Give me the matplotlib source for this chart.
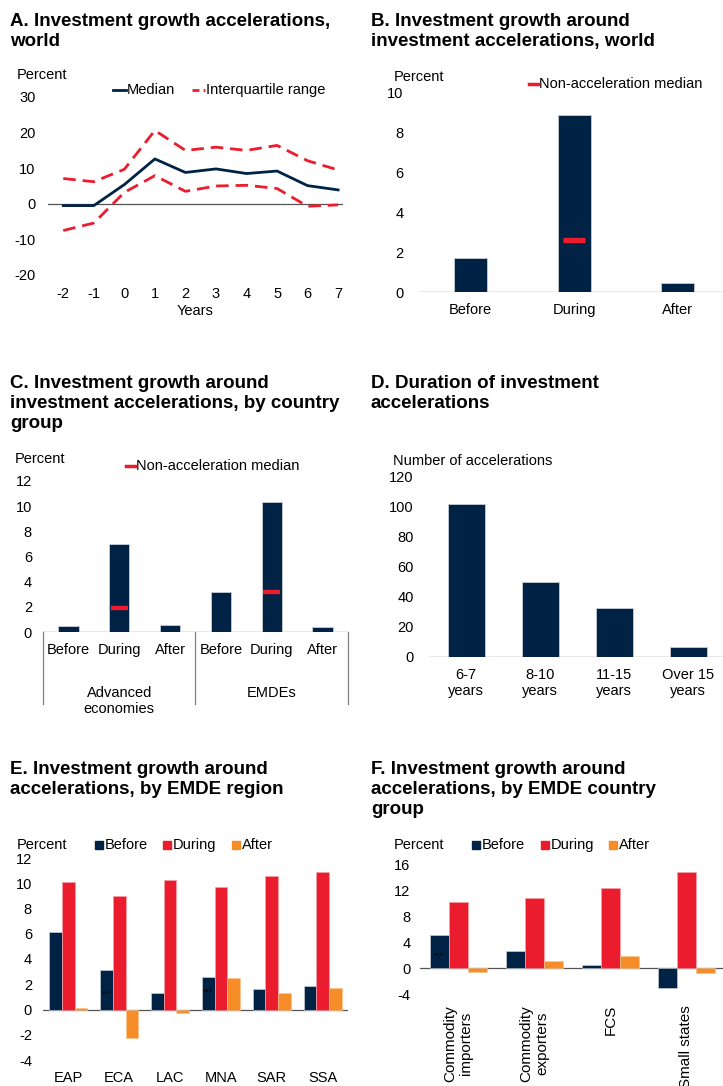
import numpy as np
import matplotlib
matplotlib.use("Agg")
import matplotlib.pyplot as plt
from matplotlib.lines import Line2D
from matplotlib.patches import Rectangle
import matplotlib.transforms as mtransforms

plt.rcParams['font.family'] = ['Liberation Sans', 'DejaVu Sans']
plt.rcParams['axes.unicode_minus'] = False

NAVY = '#002345'
RED = '#EB1C2D'
ORANGE = '#F78D28'
GRAY = '#555555'

# ---- data ----
years = [-2, -1, 0, 1, 2, 3, 4, 5, 6, 7]
median = [-0.5, -0.5, 5.4, 12.6, 8.8, 9.8, 8.5, 9.2, 5.1, 3.9]
upper_q = [7.1, 6.2, 9.7, 20.6, 15.0, 15.9, 15.0, 16.4, 12.1, 9.5]
lower_q = [-7.5, -5.4, 3.2, 7.9, 3.5, 5.0, 5.2, 4.3, -0.7, -0.3]

phases = ['Before', 'During', 'After']
world_growth = [1.71, 8.87, 0.47]
world_nonacc = 2.59

groups_c = ['Advanced\neconomies', 'EMDEs']
ae_growth = [0.45, 6.97, 0.53]
emde_growth = [3.2, 10.3, 0.4]
nonacc_c = [1.87, 3.2]

durations = ['6-7\nyears', '8-10\nyears', '11-15\nyears', 'Over 15\nyears']
n_accel = [102, 50, 33, 7]

regions = ['EAP', 'ECA', 'LAC', 'MNA', 'SAR', 'SSA']
reg_before = [6.14, 3.12, 1.30, 2.59, 1.59, 1.88]
reg_during = [10.13, 8.97, 10.26, 9.68, 10.58, 10.90]
reg_after = [0.08, -2.25, -0.29, 2.49, 1.32, 1.67]
reg_stars = {1: 1.24, 3: 1.4}

cgroups = ['Commodity\nimporters', 'Commodity\nexporters', 'FCS', 'Small states']
cg_before = [5.08, 2.6, 0.46, -3.08]
cg_during = [10.15, 10.8, 12.36, 14.77]
cg_after = [-0.6, 1.08, 1.8, -0.77]
cg_stars = {0: 1.8}

# ---- layout helpers (pixel coords, origin top-left) ----
W, H = 723, 1086
fig = plt.figure(figsize=(W / 100, H / 100), dpi=100)

def box(l, t, r, b):
    return [l / W, 1 - b / H, (r - l) / W, (b - t) / H]

def ftext(x, y, s, **kw):
    kw.setdefault('fontsize', 10.5)
    kw.setdefault('va', 'center')
    fig.text(x / W, 1 - y / H, s, **kw)

def fline(x1, x2, y, **kw):
    fig.add_artist(Line2D([x1 / W, x2 / W], [1 - y / H] * 2, **kw))

def fsquare(x, y, size, color):
    fig.add_artist(Rectangle((x / W, 1 - (y + size / 2) / H), size / W, size / H,
                             color=color, transform=fig.transFigure))

def title(x, y, s):
    fig.text(x / W, 1 - y / H, s, fontsize=13.5, fontweight='bold', va='top', ha='left',
             linespacing=1.22)

def style(ax, pad_y=8, pad_x=8):
    for sp in ax.spines.values():
        sp.set_visible(False)
    ax.tick_params(length=0, labelsize=10.5)
    ax.tick_params(axis='y', pad=pad_y)
    ax.tick_params(axis='x', pad=pad_x)
    ax.axhline(0, color=GRAY, lw=0.9, zorder=1)

# ---- A ----
title(10, 13, 'A. Investment growth accelerations,\nworld')
axA = fig.add_axes(box(48, 97, 343, 275))
style(axA, pad_y=9, pad_x=9)
axA.plot(years, median, color=NAVY, lw=2, zorder=3)
axA.plot(years, upper_q, color=RED, lw=2, ls=(0, (4.5, 2.5)), zorder=2)
axA.plot(years, lower_q, color=RED, lw=2, ls=(0, (4.5, 2.5)), zorder=2)
axA.set_xlim(-2.5, 7.16)
axA.set_ylim(-20, 30)
axA.set_yticks([-20, -10, 0, 10, 20, 30])
axA.set_xticks(years)
axA.set_xlabel('Years', fontsize=10.5, labelpad=2)
ftext(17, 75, 'Percent')
fline(113, 126, 90, color=NAVY, lw=2)
ftext(127, 90, 'Median')
fline(192, 205, 90, color=RED, lw=2, ls=(0, (2.5, 1.5)))
ftext(206, 90, 'Interquartile range')

# ---- B ----
title(371, 13, 'B. Investment growth around\ninvestment accelerations, world')
axB = fig.add_axes(box(419, 93, 723, 292))
style(axB, pad_y=11)
xb = np.arange(len(phases))
axB.bar(xb, world_growth, width=0.32, color=NAVY, edgecolor='#c8ccd4', lw=0.6, zorder=2)
axB.hlines(world_nonacc, 1 - 0.11, 1 + 0.11, color=RED, lw=3.8, zorder=3)
axB.set_xlim(-0.5, 2.44)
axB.set_ylim(0, 10)
axB.set_yticks(range(0, 11, 2))
axB.set_xticks(xb, phases)
ftext(394, 77, 'Percent')
fline(529, 538, 84, color=RED, lw=2.5)
ftext(539, 84, 'Non-acceleration median')

# ---- C ----
title(10, 375, 'C. Investment growth around\ninvestment accelerations, by country\ngroup')
axC = fig.add_axes(box(43, 481, 348, 632))
style(axC)
xc = np.arange(6)
axC.bar(xc, ae_growth + emde_growth, width=0.4, color=NAVY, edgecolor='#c8ccd4', lw=0.6, zorder=2)
for i, v in enumerate(nonacc_c):
    axC.hlines(v, 3 * i + 1 - 0.17, 3 * i + 1 + 0.17, color=RED, lw=3.2, zorder=3)
axC.set_xlim(-0.5, 5.5)
axC.set_ylim(0, 12)
axC.set_yticks(range(0, 13, 2))
axC.set_xticks(xc, phases * 2)
trC = mtransforms.blended_transform_factory(axC.transData, axC.transAxes)
for xv in [-0.5, 2.5, 5.5]:
    axC.plot([xv, xv], [0, -0.48], color='#808080', lw=0.9, transform=trC, clip_on=False)
for i, g in enumerate(groups_c):
    axC.text(3 * i + 1, -0.36, g, transform=trC, ha='center', va='top', fontsize=10.5,
             linespacing=1.15)
ftext(15, 459, 'Percent')
fline(126, 135, 466, color=RED, lw=2.5)
ftext(136, 466, 'Non-acceleration median')

# ---- D ----
title(371, 375, 'D. Duration of investment\naccelerations')
axD = fig.add_axes(box(429, 477, 723, 657))
style(axD, pad_y=11)
xd = np.arange(len(durations))
axD.bar(xd, n_accel, width=0.5, color=NAVY, edgecolor='#c8ccd4', lw=0.6, zorder=2)
axD.set_xlim(-0.5, 3.47)
axD.set_ylim(0, 120)
axD.set_yticks(range(0, 121, 20))
axD.set_xticks(xd, durations)
for lab in axD.get_xticklabels():
    lab.set_linespacing(1.15)
ftext(393, 461, 'Number of accelerations')

# ---- E ----
title(10, 761, 'E. Investment growth around\naccelerations, by EMDE region')
axE = fig.add_axes(box(43, 858, 348, 1060))
style(axE)
xe = np.arange(len(regions))
bw = 0.25
axE.bar(xe - bw, reg_before, width=bw, color=NAVY, edgecolor='#c8ccd4', lw=0.5, zorder=2)
axE.bar(xe, reg_during, width=bw, color=RED, edgecolor='#f4a0a8', lw=0.5, zorder=2)
axE.bar(xe + bw, reg_after, width=bw, color=ORANGE, edgecolor='#fbc590', lw=0.5, zorder=2)
for i, v in reg_stars.items():
    axE.text(i - bw, v, '***', ha='center', va='center', fontsize=6, color='black', zorder=4)
axE.set_xlim(-0.5, 5.5)
axE.set_ylim(-4, 12)
axE.set_yticks(range(-4, 13, 2))
axE.set_xticks(xe, regions)
ftext(17, 845, 'Percent')
for x, lab, col in [(95, 'Before', NAVY), (163, 'During', RED), (232, 'After', ORANGE)]:
    fsquare(x, 845, 7.5, col)
    ftext(x + 10, 845, lab)

# ---- F ----
title(371, 761, 'F. Investment growth around\naccelerations, by EMDE country\ngroup')
axF = fig.add_axes(box(420, 864, 723, 994))
style(axF, pad_y=7)
xf = np.arange(len(cgroups))
axF.bar(xf - bw, cg_before, width=bw, color=NAVY, edgecolor='#c8ccd4', lw=0.5, zorder=2)
axF.bar(xf, cg_during, width=bw, color=RED, edgecolor='#f4a0a8', lw=0.5, zorder=2)
axF.bar(xf + bw, cg_after, width=bw, color=ORANGE, edgecolor='#fbc590', lw=0.5, zorder=2)
for i, v in cg_stars.items():
    axF.text(i - bw, v, '***', ha='center', va='center', fontsize=6, color='black', zorder=4)
axF.set_xlim(-0.5, 3.48)
axF.set_ylim(-4, 16)
axF.set_yticks(range(-4, 17, 4))
axF.set_xticks(xf, cgroups)
for lab in axF.get_xticklabels():
    lab.set_rotation(90)
    lab.set_va('top')
    lab.set_ha('center')
    lab.set_multialignment('center')
    lab.set_linespacing(1.15)
    lab.set_fontsize(11)
ftext(394, 845, 'Percent')
for x, lab, col in [(472, 'Before', NAVY), (541, 'During', RED), (609, 'After', ORANGE)]:
    fsquare(x, 845, 7.5, col)
    ftext(x + 10, 845, lab)

fig.savefig('out.png', dpi=100)
